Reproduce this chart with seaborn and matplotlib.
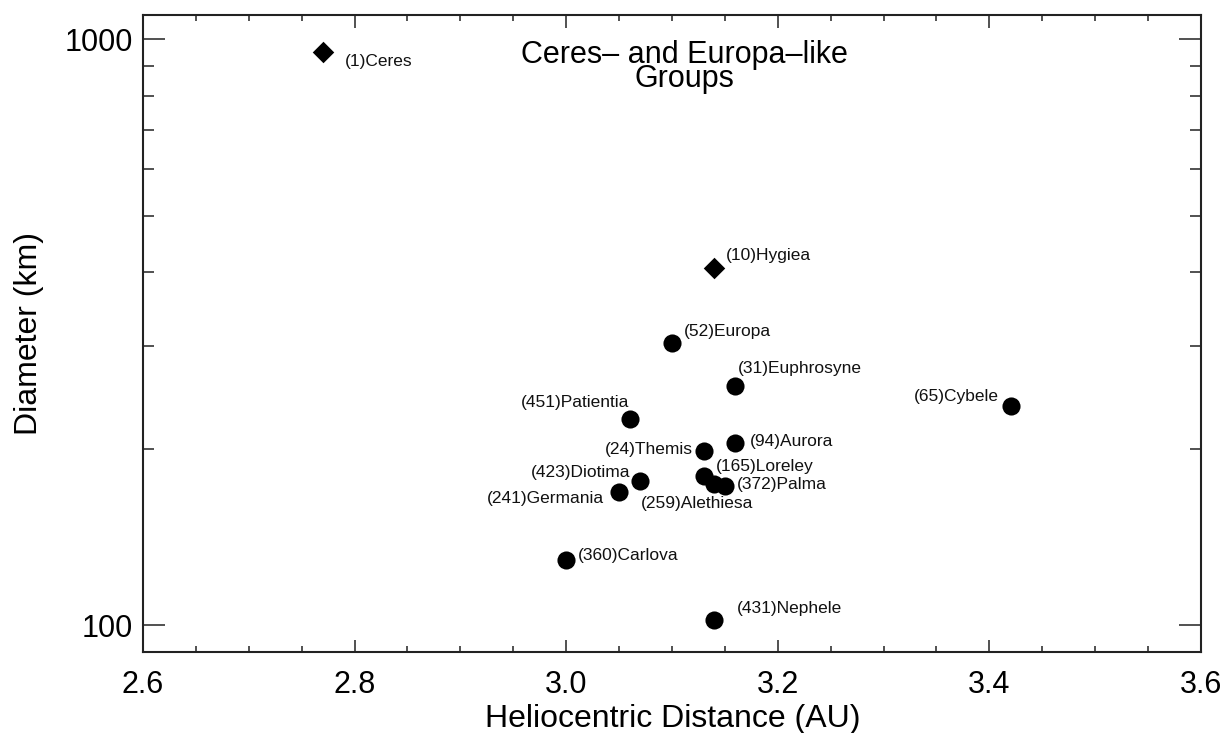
import numpy as np
import pandas as pd
import seaborn as sns
import matplotlib.pyplot as plt
from matplotlib.ticker import MultipleLocator, LogLocator, FixedLocator, NullFormatter, FuncFormatter

#%% dados
names = ['(1)Ceres', '(10)Hygiea', '(52)Europa', '(31)Euphrosyne', '(451)Patientia',
         '(94)Aurora', '(24)Themis', '(165)Loreley', '(372)Palma', '(259)Alethiesa',
         '(423)Diotima', '(241)Germania', '(360)Carlova', '(431)Nephele', '(65)Cybele']
distance = [2.77, 3.14, 3.10, 3.16, 3.06,
            3.16, 3.13, 3.13, 3.15, 3.14,
            3.07, 3.05, 3.00, 3.14, 3.42]
diameter = [952, 407, 303, 256, 225,
            205, 198, 180, 173, 174,
            176, 169, 129, 102, 237]
group = ['Ceres', 'Ceres', 'Europa', 'Europa', 'Europa',
         'Europa', 'Europa', 'Europa', 'Europa', 'Europa',
         'Europa', 'Europa', 'Europa', 'Europa', 'Europa']

df = pd.DataFrame({'name': names, 'dist': distance, 'diam': diameter, 'group': group})

# deslocamento dos rótulos (pixels) e alinhamento
label_pos = {
    '(1)Ceres': (22, -10, 'left'),
    '(10)Hygiea': (12, 13, 'left'),
    '(52)Europa': (12, 12, 'left'),
    '(31)Euphrosyne': (2, 17, 'left'),
    '(451)Patientia': (0, 16, 'right'),
    '(94)Aurora': (14, 1, 'left'),
    '(24)Themis': (-11, 2, 'right'),
    '(165)Loreley': (12, 9, 'left'),
    '(372)Palma': (12, 1, 'left'),
    '(259)Alethiesa': (-73, -19, 'left'),
    '(423)Diotima': (-10, 9, 'right'),
    '(241)Germania': (-15, -7, 'right'),
    '(360)Carlova': (12, 5, 'left'),
    '(431)Nephele': (23, 12, 'left'),
    '(65)Cybele': (-12, 9, 'right'),
}

#%% gráfico
sns.set_style('ticks')
plt.rcParams['font.family'] = ['Liberation Sans', 'DejaVu Sans']
plt.rcParams['text.color'] = 'black'
plt.rcParams['axes.labelcolor'] = 'black'

fig = plt.figure(figsize=(12.24, 7.33), dpi=100)
ax = fig.add_axes([0.1168, 0.1105, 0.8644, 0.869])

sns.scatterplot(data=df[df['group'] == 'Europa'], x='dist', y='diam', marker='o',
                s=170, color='black', linewidth=0, legend=False, ax=ax, zorder=3)
sns.scatterplot(data=df[df['group'] == 'Ceres'], x='dist', y='diam', marker='D',
                s=120, color='black', linewidth=0, legend=False, ax=ax, zorder=3)

for _, row in df.iterrows():
    dx, dy, ha = label_pos[row['name']]
    ax.annotate(row['name'], (row['dist'], row['diam']), xytext=(dx, dy),
                textcoords='offset pixels', ha=ha, va='center', fontsize=12.5,
                color='#111111')

ax.set_yscale('log')
ax.set_xlim(2.6, 3.6)
ax.set_ylim(90, 1100)

ax.xaxis.set_major_locator(MultipleLocator(0.2))
ax.xaxis.set_minor_locator(MultipleLocator(0.05))
ax.xaxis.set_major_formatter(FuncFormatter(lambda v, p: '{:.1f}'.format(v)))
ax.yaxis.set_major_locator(FixedLocator([100, 1000]))
ax.yaxis.set_minor_locator(LogLocator(base=10, subs=np.arange(2, 10)))
ax.yaxis.set_major_formatter(FuncFormatter(lambda v, p: '{:.0f}'.format(v)))
ax.yaxis.set_minor_formatter(NullFormatter())

ax.tick_params(axis='both', which='both', direction='in', top=True, right=True,
               color='#222222', width=1.1, labelsize=22, labelcolor='black')
ax.tick_params(axis='x', which='major', length=9, pad=13)
ax.tick_params(axis='x', which='minor', length=4.5)
ax.tick_params(axis='y', which='major', length=15.5, pad=7)
ax.tick_params(axis='y', which='minor', length=8)

for sp in ax.spines.values():
    sp.set_linewidth(1.5)
    sp.set_color('#222222')

ax.set_xlabel('Heliocentric Distance (AU)', fontsize=23)
ax.set_ylabel('Diameter (km)', fontsize=23)
ax.xaxis.set_label_coords(0.5005, -0.082)
ax.yaxis.set_label_coords(-0.0936, 0.5)

# título dentro do gráfico (duas linhas juntas)
ax.text(0.512, 0.887, 'Ceres\u2013 and Europa\u2013like\nGroups', transform=ax.transAxes,
        ha='center', va='baseline', multialignment='center', fontsize=22,
        linespacing=0.72)

fig.savefig('out.png', dpi=100)
